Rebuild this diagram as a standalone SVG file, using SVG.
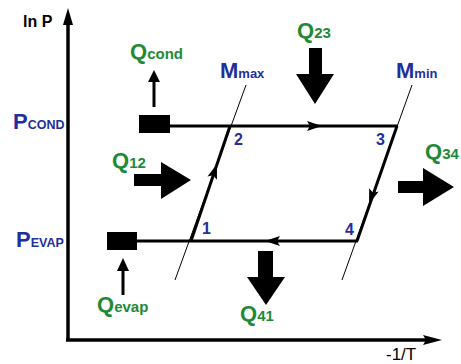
<svg xmlns="http://www.w3.org/2000/svg" xmlns:xlink="http://www.w3.org/1999/xlink" width="461" height="364" viewBox="0 0 461 364">
<style>
.ax{stroke:#000;stroke-width:3.5;fill:none}
.ln{stroke:#000;stroke-width:3;fill:none}
.thin{stroke:#000;stroke-width:1;fill:none}
.blk{fill:#000}
.g{fill:#1e8a35;font-family:"Liberation Sans",Arial,sans-serif;font-weight:bold}
.b{fill:#1f2f9c;font-family:"Liberation Sans",Arial,sans-serif;font-weight:bold}
.k{fill:#000;font-family:"Liberation Sans",Arial,sans-serif}
.big{font-size:22px}
.sub{font-size:15px}
.psub{font-size:12.5px}
.msub{font-size:13px}
.num{font-size:16px}
</style>
<defs>
<path id="ah" d="M0,0 L-15,-5 L-12,0 L-15,5 Z"/>
</defs>
<rect width="461" height="364" fill="#fff"/>
<g id="axes">
<line class="ax" x1="68" y1="340" x2="68" y2="22"/>
<polygon class="blk" points="68,8 63,25 73,25"/>
<line class="ax" x1="66" y1="340" x2="426" y2="340"/>
<polygon class="blk" points="442,340 423,335 426,340 423,345"/>
<text class="k" x="23" y="27" font-size="16" font-weight="bold">ln P</text>
<text class="k" x="386" y="360" font-size="17">-1/T</text>
</g>
<g id="pcond"><text class="b" x="13" y="129"><tspan class="big">P</tspan><tspan class="psub">COND</tspan></text></g>
<g id="pevap"><text class="b" x="16" y="247"><tspan class="big">P</tspan><tspan class="psub">EVAP</tspan></text></g>
<g id="mmax"><text class="b" x="220" y="78"><tspan class="big">M</tspan><tspan class="msub">max</tspan></text></g>
<g id="mmin"><text class="b" x="396" y="78"><tspan class="big">M</tspan><tspan class="msub">min</tspan></text></g>
<g id="condenser"><rect class="blk" x="139" y="115" width="31" height="18"/></g>
<g id="evaporator"><rect class="blk" x="107" y="232" width="30" height="18"/></g>
<g id="state1"><text class="b num" x="202" y="234">1</text></g>
<g id="state2"><text class="b num" x="234" y="145">2</text></g>
<g id="state3"><text class="b num" x="376" y="145">3</text></g>
<g id="state4"><text class="b num" x="345" y="235">4</text></g>
<g id="qcond">
<line class="ln" x1="154" y1="107" x2="154" y2="80"/>
<polygon class="blk" points="154,70 148,82 160,82"/>
<text class="g" x="130" y="59"><tspan class="big">Q</tspan><tspan class="sub">cond</tspan></text>
</g>
<g id="qevap">
<line class="ln" x1="123" y1="295" x2="123" y2="268"/>
<polygon class="blk" points="123,258 117,271 129,271"/>
<text class="g" x="97" y="312"><tspan class="big">Q</tspan><tspan class="sub">evap</tspan></text>
</g>
<g id="q23">
<polygon class="blk" points="309,48 322,48 322,74 334,74 315,104 296,74 309,74"/>
<text class="g" x="297" y="38"><tspan class="big">Q</tspan><tspan class="sub">23</tspan></text>
</g>
<g id="q12">
<polygon class="blk" points="134,174 161,174 161,162 191,180 161,199 161,186 134,186"/>
<text class="g" x="112" y="168"><tspan class="big">Q</tspan><tspan class="sub">12</tspan></text>
</g>
<g id="q34">
<polygon class="blk" points="398,181 423,181 423,168 454,187 423,206 423,193 398,193"/>
<text class="g" x="425" y="159"><tspan class="big">Q</tspan><tspan class="sub">34</tspan></text>
</g>
<g id="q41">
<polygon class="blk" points="258,251 273,251 273,277 285,277 266,305 247,277 258,277"/>
<text class="g" x="240" y="321"><tspan class="big">Q</tspan><tspan class="sub">41</tspan></text>
</g>
<g id="connectors">
<line class="thin" x1="246" y1="85" x2="175" y2="280"/>
<line class="thin" x1="412" y1="85" x2="342" y2="280"/>
<line class="ln" x1="170" y1="126" x2="398" y2="126"/>
<line class="ln" x1="137" y1="241" x2="358" y2="241"/>
<line class="ln" x1="191" y1="241" x2="230" y2="126"/>
<line class="ln" x1="397" y1="126" x2="357" y2="241"/>
<use xlink:href="#ah" transform="translate(322,126)"/>
<use xlink:href="#ah" transform="translate(265,241) rotate(180)"/>
<use xlink:href="#ah" transform="translate(217,164) rotate(-71.3)"/>
<use xlink:href="#ah" transform="translate(369,204) rotate(109.2)"/>
</g>
</svg>
